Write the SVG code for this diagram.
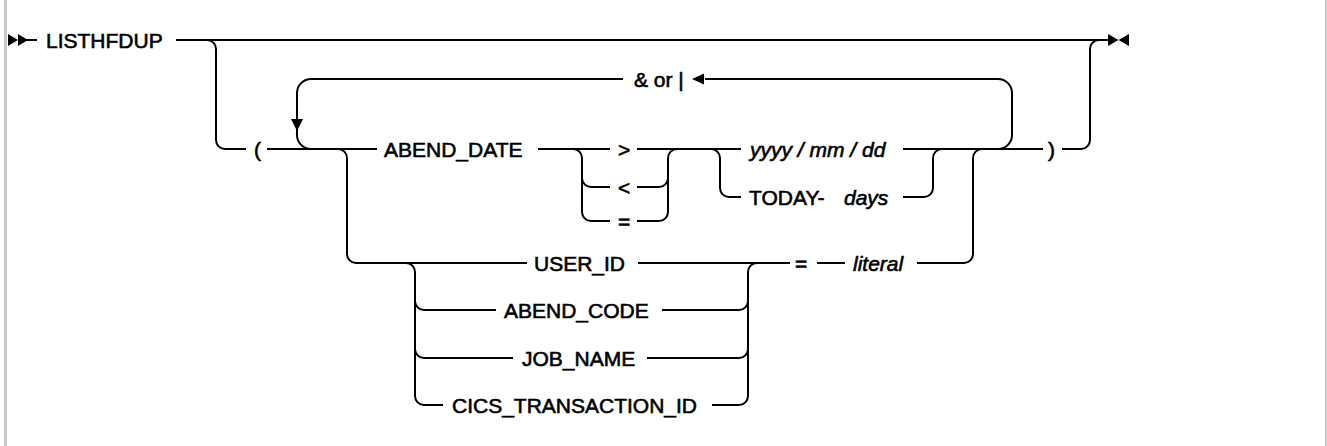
<svg xmlns="http://www.w3.org/2000/svg" width="1327" height="446" viewBox="0 0 1327 446">
<style>
.t{font-family:"Liberation Sans",Arial,sans-serif;font-size:21px;fill:#000;stroke:#000;stroke-width:0.6}
.i{font-style:italic}
.c{fill:none;stroke:#000;stroke-width:2}
.m{fill:#000;stroke:none}
</style>
<rect x="0" y="0" width="1327" height="446" fill="#fff"/>
<line x1="5.5" y1="0" x2="5.5" y2="446" stroke="#c8c8c8" stroke-width="3"/>
<line x1="1326" y1="0" x2="1326" y2="446" stroke="#c8c8c8" stroke-width="2"/>
<g id="connectors">
<polygon class="m" points="8,34 18,40 8,46"/>
<polygon class="m" points="18,34 28,40 18,46"/>
<path class="c" d="M26 40 H37"/>
<path class="c" d="M176 40 H1108"/>
<polygon class="m" points="1108,34 1118.5,40 1108,46"/>
<polygon class="m" points="1129,34 1118.5,40 1129,46"/>
<path class="c" d="M207 40 A9 9 0 0 1 216 49 V140 A9 9 0 0 0 225 149 H246"/>
<path class="c" d="M1062 149 H1081 A9 9 0 0 0 1090 140 V49 A9 9 0 0 1 1099 40"/>
<path class="c" d="M267 149 H377"/>
<path class="c" d="M623 79 H311 A14 14 0 0 0 297 93 V135 A14 14 0 0 0 311 149"/>
<polygon class="m" points="291,119 303,119 297,131"/>
<path class="c" d="M998 149 A14 14 0 0 0 1012 135 V93 A14 14 0 0 0 998 79 H705"/>
<polygon class="m" points="692,79 704,73.5 704,84.5"/>
<path class="c" d="M538 149 H610"/>
<path class="c" d="M637 149 H741"/>
<path class="c" d="M573 149 A9 9 0 0 1 582 158 V178 A9 9 0 0 0 591 187 H610"/>
<path class="c" d="M582 178 V212 A9 9 0 0 0 591 221 H610"/>
<path class="c" d="M637 187 H659 A9 9 0 0 0 668 178 V158 A9 9 0 0 1 677 149"/>
<path class="c" d="M637 221 H659 A9 9 0 0 0 668 212 V178"/>
<path class="c" d="M711 149 A9 9 0 0 1 720 158 V188 A9 9 0 0 0 729 197 H741"/>
<path class="c" d="M903 197 H924 A9 9 0 0 0 933 188 V158 A9 9 0 0 1 942 149"/>
<path class="c" d="M903 149 H1043"/>
<path class="c" d="M338 149 A9 9 0 0 1 347 158 V254 A9 9 0 0 0 356 263 H527"/>
<path class="c" d="M638 263 H790"/>
<path class="c" d="M406 263 A9 9 0 0 1 415 272 V301 A9 9 0 0 0 424 310 H496"/>
<path class="c" d="M415 301 V349 A9 9 0 0 0 424 358 H513"/>
<path class="c" d="M415 349 V396 A9 9 0 0 0 424 405 H443"/>
<path class="c" d="M662 310 H739 A9 9 0 0 0 748 301 V272 A9 9 0 0 1 757 263"/>
<path class="c" d="M647 358 H739 A9 9 0 0 0 748 349 V301"/>
<path class="c" d="M712 405 H739 A9 9 0 0 0 748 396 V349"/>
<path class="c" d="M817 263 H845"/>
<path class="c" d="M917 263 H964 A9 9 0 0 0 973 254 V158 A9 9 0 0 1 982 149"/>
</g>
<g id="n-listhfdup"><text class="t" x="46" y="47.5">LISTHFDUP</text></g>
<g id="n-lparen"><text class="t" x="254" y="156.5">(</text></g>
<g id="n-rparen"><text class="t" x="1048" y="156.5">)</text></g>
<g id="n-andor"><text class="t" x="634" y="86.5">&amp; or |</text></g>
<g id="n-abend-date"><text class="t" x="384" y="156.5">ABEND_DATE</text></g>
<g id="n-gt"><text class="t" x="618" y="156.5">&gt;</text></g>
<g id="n-lt"><text class="t" x="618" y="194.5">&lt;</text></g>
<g id="n-eq1"><text class="t" x="618" y="228.5">=</text></g>
<g id="n-date"><text class="t i" x="750" y="156.5">yyyy / mm / dd</text></g>
<g id="n-today"><text class="t" x="749" y="204.5">TODAY-<tspan class="i" x="844">days</tspan></text></g>
<g id="n-user-id"><text class="t" x="534" y="270.5">USER_ID</text></g>
<g id="n-abend-code"><text class="t" x="504" y="317.5">ABEND_CODE</text></g>
<g id="n-job-name"><text class="t" x="522" y="365.5">JOB_NAME</text></g>
<g id="n-cics"><text class="t" x="452" y="412.5">CICS_TRANSACTION_ID</text></g>
<g id="n-eq2"><text class="t" x="795" y="270.5">=</text></g>
<g id="n-literal"><text class="t i" x="853" y="270.5">literal</text></g>
</svg>
